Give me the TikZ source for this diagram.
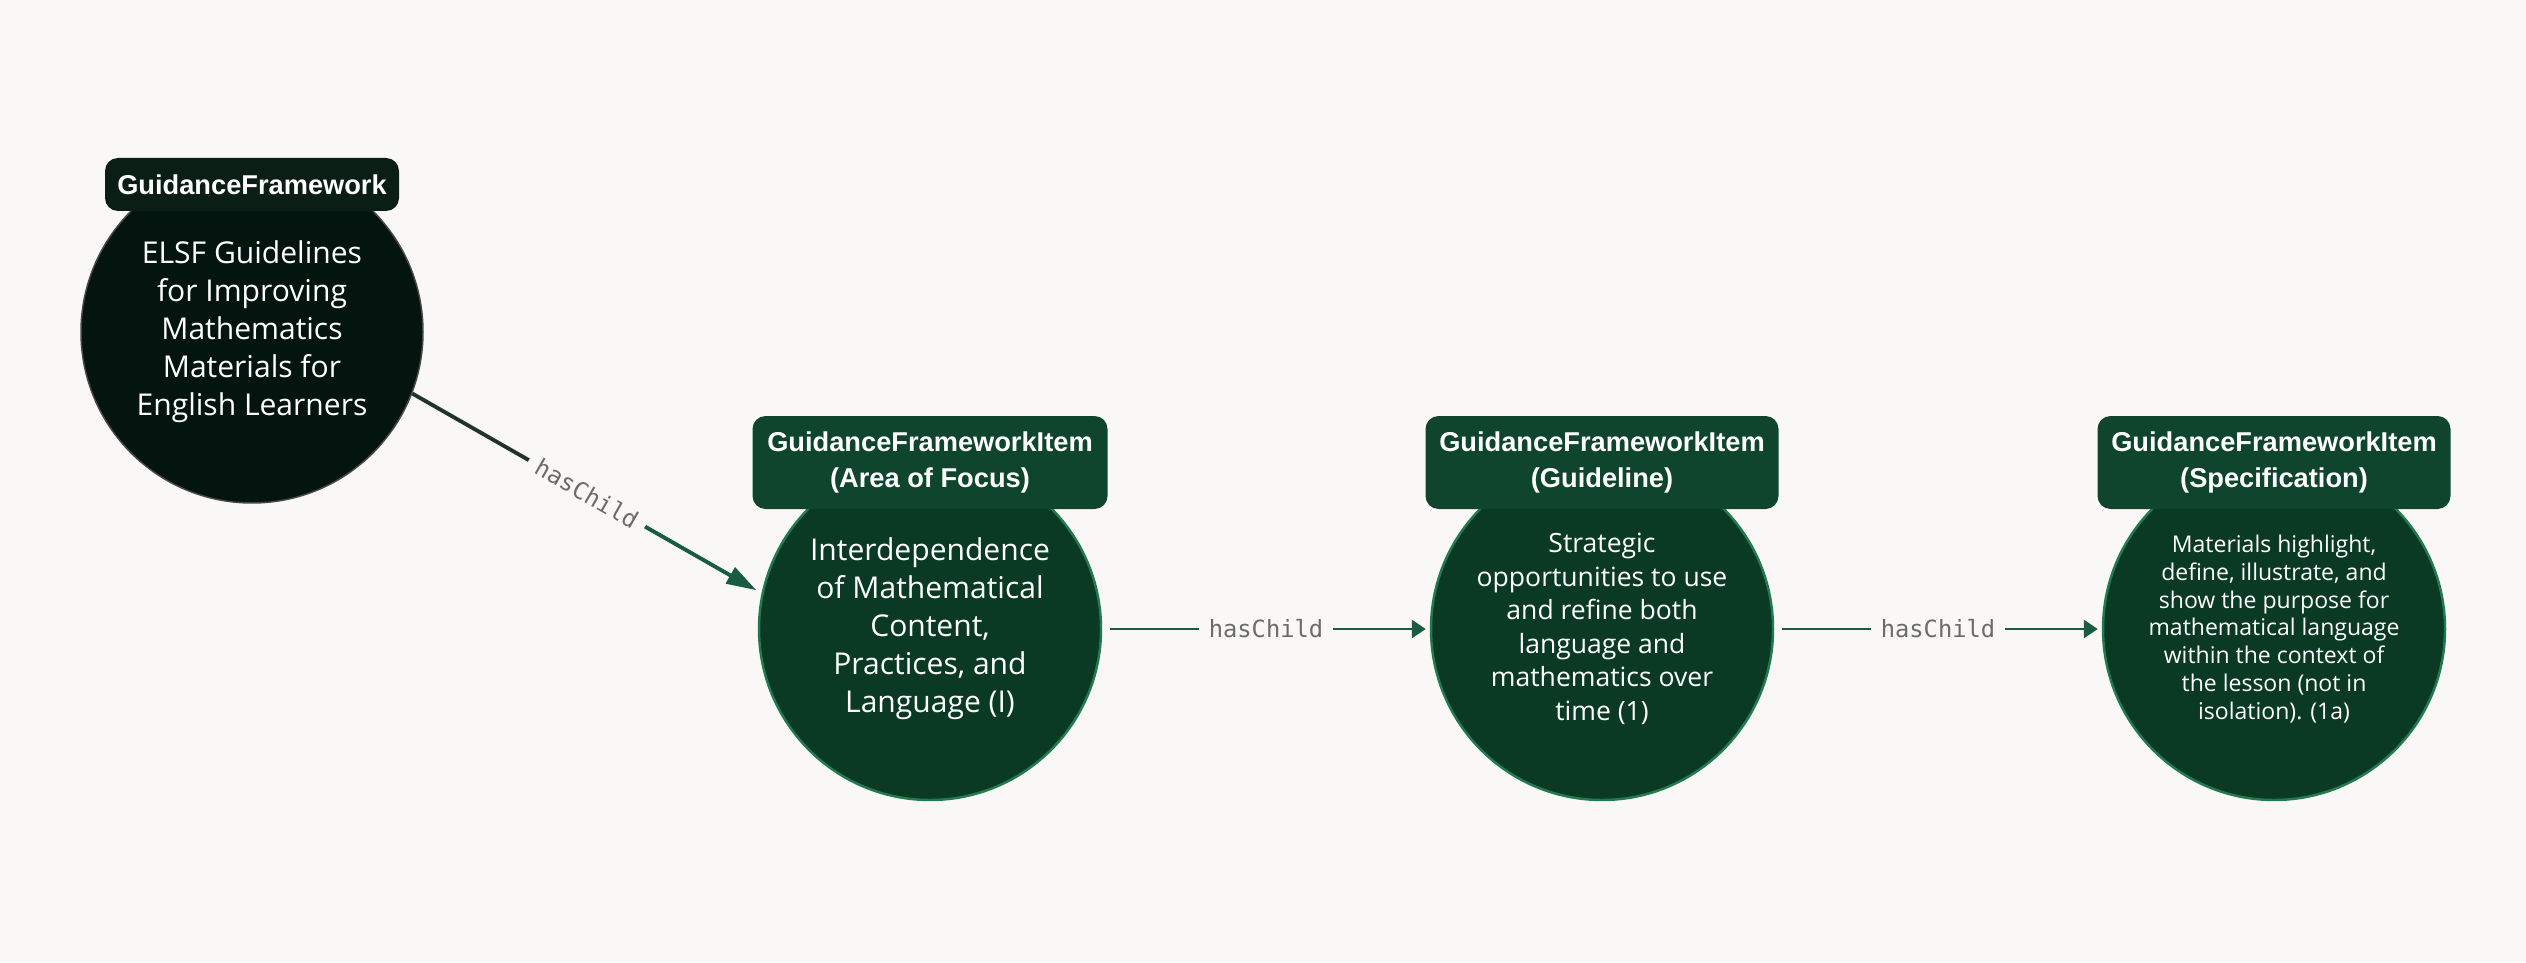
\documentclass[tikz,border=0pt]{standalone}
\usepackage{fontspec}
\setmainfont{Open Sans}
\newfontfamily\tagfont{Liberation Sans}
\newfontfamily\edgefont{DejaVu Sans Mono}
\usetikzlibrary{arrows.meta}

\definecolor{paper}{HTML}{F9F8F6}
\definecolor{rootfill}{HTML}{04150F}
\definecolor{rootline}{HTML}{474747}
\definecolor{roottag}{HTML}{0A1E16}
\definecolor{itemfill}{HTML}{0B3A24}
\definecolor{itemline}{HTML}{237A4E}
\definecolor{itemtag}{HTML}{10452D}
\definecolor{rootedge}{HTML}{1F3329}
\definecolor{itemedge}{HTML}{1A5C3F}
\definecolor{labelgray}{HTML}{6B6B6B}

\begin{document}
\begin{tikzpicture}[
    root/.style={circle, draw=rootline, line width=0.85pt, fill=rootfill, text=white,
                 minimum size=6.84cm, inner sep=0pt, align=center},
    item/.style={circle, draw=itemline, line width=1.4pt, fill=itemfill, text=white,
                 minimum size=6.84cm, inner sep=0pt, align=center},
    tag/.style={rounded corners=0.26cm, text=white, align=center, inner sep=0pt,
                font=\tagfont\bfseries\fontsize{15.5}{20.9}\selectfont},
    edgelabel/.style={text=labelgray, inner xsep=0.19cm, inner ysep=0.08cm,
                      font=\edgefont\fontsize{13.5}{16}\selectfont},
    darkline/.style={draw=rootedge, line width=2.2pt},
    greenline/.style={draw=itemedge, line width=1.6pt}
  ]
                        % Page
                        \useasboundingbox (0,0) rectangle (50.52,19.24);
                        \fill[paper] (0,0) rectangle (50.52,19.24);

                        % Circles
                        \node[root, font=\fontsize{17.1}{21.6}\selectfont] (frame) at (5.04,12.60)
                            {ELSF Guidelines\\for Improving\\Mathematics\\Materials for\\English Learners};
                        \node[item, font=\fontsize{17.1}{21.6}\selectfont] (focus) at (18.60,6.66)
                            {Interdependence\\of Mathematical\\Content,\\Practices, and\\Language (I)};
                        \node[item, font=\fontsize{15.1}{19.1}\selectfont] (guide) at (32.04,6.66)
                            {Strategic\\opportunities to use\\and refine both\\language and\\mathematics over\\time (1)};
                        \node[item, font=\fontsize{13.1}{15.8}\selectfont] (spec) at (45.48,6.66)
                            {Materials highlight,\\define, illustrate, and\\show the purpose for\\mathematical language\\within the context of\\the lesson (not in\\isolation). (1a)};

                        % Tags
                        \node[tag, fill=roottag, minimum width=5.88cm, minimum height=1.06cm] (frametag) at (5.04,15.55)
                            {GuidanceFramework};
                        \node[tag, fill=itemtag, minimum width=7.1cm, minimum height=1.86cm] (focustag) at (18.60,9.99)
                            {GuidanceFrameworkItem\\(Area of Focus)};
                        \node[tag, fill=itemtag, minimum width=7.06cm, minimum height=1.86cm] (guidetag) at (32.04,9.99)
                            {GuidanceFrameworkItem\\(Guideline)};
                        \node[tag, fill=itemtag, minimum width=7.06cm, minimum height=1.86cm] (spectag) at (45.48,9.99)
                            {GuidanceFrameworkItem\\(Specification)};

                        % Edges
                        \path (frame.-21) -- node[edgelabel, sloped] (e1) {hasChild} (focus.168);
                        \draw[darkline] (frame.-21) -- (e1);
                        \draw[greenline, line width=2.2pt, -{Triangle[length=0.6cm,width=0.36cm]}, shorten >=0.12cm] (e1) -- (focus.168);

                        \path (focus.east) -- node[edgelabel] (e2) {hasChild} (guide.west);
                        \draw[greenline, shorten <=0.16cm] (focus.east) -- (e2);
                        \draw[greenline, -{Triangle[length=0.28cm,width=0.36cm]}, shorten >=0.08cm] (e2) -- (guide.west);

                        \path (guide.east) -- node[edgelabel] (e3) {hasChild} (spec.west);
                        \draw[greenline, shorten <=0.16cm] (guide.east) -- (e3);
                        \draw[greenline, -{Triangle[length=0.28cm,width=0.36cm]}, shorten >=0.08cm] (e3) -- (spec.west);
\end{tikzpicture}
\end{document}
